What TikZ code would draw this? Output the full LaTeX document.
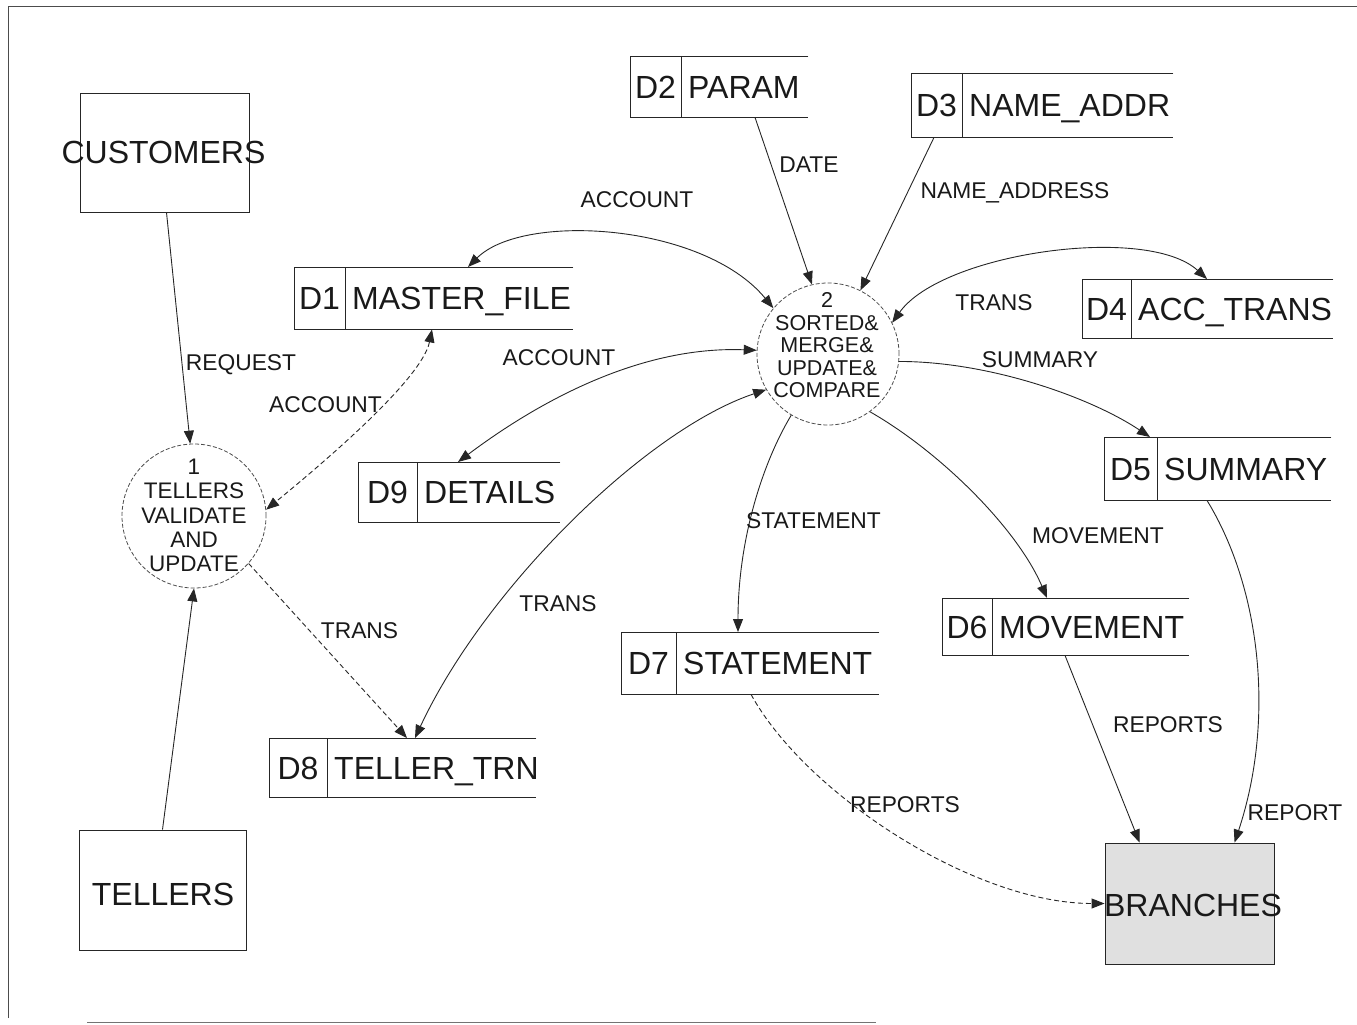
\documentclass[tikz,border=0pt]{standalone}
\usepackage{fontspec}
\setmainfont{Liberation Sans}
\usetikzlibrary{arrows.meta,calc}

% data store: open-ended Gane-Sarson box with an id cell
% #1 name, #2 left x, #3 top y, #4 id-cell width, #5 total width, #6 height, #7 id, #8 title
\newcommand{\datastore}[8]{%
  \node[storebox, minimum width=#5pt, minimum height=#6pt, anchor=north west] (#1) at (#2,#3) {};
  \draw[line] (#1.north east) -- (#1.north west) -- (#1.south west) -- (#1.south east);
  \draw[line] ([xshift=#4pt]#1.north west) -- ([xshift=#4pt]#1.south west);
  \node[big, anchor=base] (#1id) at ([xshift=#4pt/2, yshift=-11.5pt]#1.west) {#7};
  \node[big, anchor=base west] (#1title) at ([xshift=#4pt+7pt, yshift=-11.5pt]#1.west) {#8};
}

\begin{document}
\begin{tikzpicture}[x=1pt,y=-1pt,
  line/.style={line width=0.9pt, draw=black!85},
  tip/.tip={Triangle[length=13pt,width=10pt]},
  flow/.style={line, -tip},
  twoway/.style={line, tip-tip},
  broken/.style={dash pattern=on 5pt off 3pt},
  storebox/.style={rectangle, draw=none, inner sep=0pt},
  entity/.style={rectangle, draw=black!85, line width=0.9pt, inner sep=0pt},
  proc/.style={circle, draw=black!70, line width=0.8pt, dash pattern=on 4pt off 2pt, inner sep=0pt},
  big/.style={font=\fontsize{32}{38}\selectfont, text=black!90, inner sep=0pt},
  lbl/.style={font=\fontsize{22.8}{26}\selectfont, text=black!90, inner sep=0pt, anchor=base},
  ptext/.style={text=black!90, align=center, inner sep=0pt},
]
\useasboundingbox (0,0) rectangle (1357,1025);

% page frame
\draw[black!70, line width=1pt] (8,1018) -- (8,7) -- (1357,7);
\draw[black!55, line width=1pt] (87,1022) -- (876,1022);

% external entities
\node[entity, minimum width=169pt, minimum height=119pt] (customers) at (164.5,152.5) {};
\node[big, anchor=base] (customerst) at (163.5,163) {CUSTOMERS};
\node[entity, minimum width=167pt, minimum height=120pt] (tellers) at (162.5,890) {};
\node[big, anchor=base] (tellerst) at (163,905) {TELLERS};
\node[entity, fill=black!12, minimum width=169pt, minimum height=121pt] (branches) at (1189.5,903.5) {};
\node[big, anchor=base] (branchest) at (1193,916) {BRANCHES};

% processes
\node[proc, minimum size=144pt] (p1) at (194,516) {};
\node[ptext, font=\fontsize{22.5}{24.3}\selectfont] (p1t) at (194,515.5)
  {1\\TELLERS\\VALIDATE\\AND\\UPDATE};
\node[proc, minimum size=142pt] (p2) at (828,354) {};
\node[ptext, font=\fontsize{21.5}{22.5}\selectfont] (p2t) at (827,345.5)
  {2\\SORTED\&\\MERGE\&\\UPDATE\&\\COMPARE};

% data stores
\datastore{d2}{630}{56}{51}{178}{61}{D2}{PARAM}
\datastore{d3}{911}{73}{51}{262}{64}{D3}{NAME\_ADDR}
\datastore{d1}{294}{267}{51}{279}{62}{D1}{MASTER\_FILE}
\datastore{d4}{1082}{279}{49}{251}{59}{D4}{ACC\_TRANS}
\datastore{d5}{1104}{437}{53}{227}{63}{D5}{SUMMARY}
\datastore{d9}{358}{462}{59}{202}{60}{D9}{DETAILS}
\datastore{d8}{269}{738}{58}{267}{59}{D8}{TELLER\_TRN}
\datastore{d7}{621}{632}{55}{258}{62}{D7}{STATEMENT}
\datastore{d6}{942}{598}{50}{247}{57}{D6}{MOVEMENT}

% flows into and out of process 1
\draw[flow] ([xshift=2pt]customers.south) -- (p1.93);
\draw[flow] (tellers.north) -- (p1.270);
\draw[twoway, broken] ([xshift=138pt]d1.south west)
  .. controls +(-10,50) and +(55,-45) .. (p1.5);
\draw[flow, broken] (p1.319) -- ([xshift=138pt]d8.north west);

% flows around process 2
\draw[twoway] ([xshift=174pt]d1.north west)
  .. controls +(55,-55) and +(-70,-85) .. (p2.140);
\draw[twoway] (p2.177)
  .. controls +(-130,-5) and +(60,-45) .. ([xshift=100pt]d9.north west);
\draw[twoway] (p2.210)
  .. controls +(-120,40) and +(70,-150) .. ([xshift=146pt]d8.north west);
\draw[flow] ([xshift=125pt]d2.south west) -- (p2.103);
\draw[flow] ([xshift=23pt]d3.south west) -- (p2.63);
\draw[twoway] (p2.26)
  .. controls +(50,-70) and +(-60,-55) .. ([xshift=125pt]d4.north west);
\draw[flow] (p2.354)
  .. controls +(90,0) and +(-60,-40) .. ([xshift=46pt]d5.north west);
\draw[flow] (p2.239)
  .. controls +(-30,50) and +(0,-90) .. ([xshift=117pt]d7.north west);
\draw[flow] (p2.306)
  .. controls +(70,40) and +(-30,-70) .. ([xshift=105pt]d6.north west);

% reports to branches
\draw[flow, broken] ([xshift=130pt]d7.south west)
  .. controls +(55,100) and +(-130,0) .. (branches.west);
\draw[flow] ([xshift=123pt]d6.south west) -- ([xshift=35pt]branches.north west);
\draw[flow] ([xshift=103pt]d5.south west)
  .. controls +(55,90) and +(40,-120) .. ([xshift=130pt]branches.north west);

% flow labels
\node[lbl] (lrequest) at (241,370) {REQUEST};
\node[lbl] (lacc1) at (325.5,412) {ACCOUNT};
\node[lbl] (lacc2) at (637,207) {ACCOUNT};
\node[lbl] (lacc3) at (559,365) {ACCOUNT};
\node[lbl] (ldate) at (809,172) {DATE};
\node[lbl] (lname) at (1015,198) {NAME\_ADDRESS};
\node[lbl] (ltrans4) at (994,310) {TRANS};
\node[lbl] (lsummary) at (1040,367) {SUMMARY};
\node[lbl] (lstatement) at (813.5,528) {STATEMENT};
\node[lbl] (lmovement) at (1098,543) {MOVEMENT};
\node[lbl] (ltrans8) at (558,611) {TRANS};
\node[lbl] (ltrans1) at (359.5,638) {TRANS};
\node[lbl] (lrep6) at (1168,732) {REPORTS};
\node[lbl] (lrep7) at (905,812) {REPORTS};
\node[lbl] (lrep5) at (1295,820) {REPORT};
\end{tikzpicture}
\end{document}
